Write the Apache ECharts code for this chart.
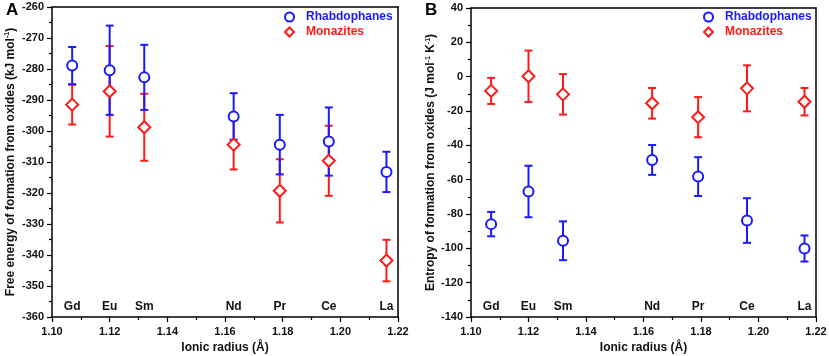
<!DOCTYPE html>
<html>
<head>
<meta charset="utf-8">
<script src="https://cdn.jsdelivr.net/npm/echarts@6/dist/echarts.min.js"></script>
<style>
  html, body { margin: 0; padding: 0; background: #fff; }
  #chart { width: 829px; height: 356px; }
</style>
</head>
<body>
<div id="chart"></div>
<script>
  // ionic radius of each lanthanide (Å)
  const elements = ['Gd', 'Eu', 'Sm', 'Nd', 'Pr', 'Ce', 'La'];
  const radius = [1.107, 1.120, 1.132, 1.163, 1.179, 1.196, 1.216];

  // A: free energy of formation (kJ/mol) and error
  const rhabG = [-278.9, -280.4, -282.7, -295.3, -304.4, -303.4, -313.2];
  const rhabGErr = [6.0, 14.4, 10.5, 7.5, 9.6, 11.0, 6.5];
  const monaG = [-291.5, -287.2, -298.8, -304.4, -319.3, -309.6, -341.8];
  const monaGErr = [6.4, 14.6, 10.8, 8.0, 10.2, 11.3, 6.7];

  // B: entropy of formation (J/mol/K) and error
  const rhabS = [-85.9, -66.9, -95.6, -48.5, -58.2, -83.8, -100.1];
  const rhabSErr = [7.1, 15.0, 11.3, 8.7, 11.3, 13.0, 7.6];
  const monaS = [-8.3, 0.2, -10.3, -15.5, -23.6, -6.8, -14.6];
  const monaSErr = [7.6, 15.0, 11.8, 8.9, 11.7, 13.4, 8.0];

  const blue = '#1a1aff';
  const red = '#ff1a1a';
  const font = 'Liberation Sans, Arial, sans-serif';

  const chart = echarts.init(document.getElementById('chart'), null, { renderer: 'canvas' });

  function errBars(vals, errs, color, idx) {
    return {
      type: 'custom',
      xAxisIndex: idx,
      yAxisIndex: idx,
      z: 2,
      silent: true,
      data: radius.map((r, i) => [r, vals[i] - errs[i], vals[i] + errs[i]]),
      renderItem: function (params, api) {
        const lo = api.coord([api.value(0), api.value(1)]);
        const hi = api.coord([api.value(0), api.value(2)]);
        const w = 4;
        const st = { stroke: color, lineWidth: 2 };
        return {
          type: 'group',
          children: [
            { type: 'line', shape: { x1: lo[0], y1: lo[1], x2: hi[0], y2: hi[1] }, style: st },
            { type: 'line', shape: { x1: lo[0] - w, y1: lo[1], x2: lo[0] + w, y2: lo[1] }, style: st },
            { type: 'line', shape: { x1: hi[0] - w, y1: hi[1], x2: hi[0] + w, y2: hi[1] }, style: st }
          ]
        };
      }
    };
  }

  function points(name, vals, color, symbol, size, idx) {
    return {
      name: name,
      type: 'scatter',
      xAxisIndex: idx,
      yAxisIndex: idx,
      z: 3,
      symbol: symbol,
      symbolSize: size,
      itemStyle: { color: '#fff', borderColor: color, borderWidth: 2, opacity: 1 },
      data: radius.map((r, i) => [r, vals[i]])
    };
  }

  // element names just above the bottom axis
  function elemLabels(yMin, idx) {
    return {
      type: 'custom',
      xAxisIndex: idx,
      yAxisIndex: idx,
      silent: true,
      data: radius.map((r, i) => [r, yMin, i]),
      renderItem: function (params, api) {
        const p = api.coord([api.value(0), api.value(1)]);
        return {
          type: 'text',
          x: p[0],
          y: p[1] - 10.5,
          style: {
            text: elements[api.value(2)],
            align: 'center',
            verticalAlign: 'middle',
            font: 'bold 12px ' + font,
            fill: '#111'
          }
        };
      }
    };
  }

  function xAxis(idx) {
    return {
      type: 'value',
      gridIndex: idx,
      min: 1.10,
      max: 1.22,
      interval: 0.02,
      name: 'Ionic radius (Å)',
      nameLocation: 'middle',
      nameGap: 24,
      nameTextStyle: { fontFamily: font, fontWeight: 'bold', fontSize: 12, color: '#111' },
      axisLine: { onZero: false, lineStyle: { color: '#000', width: 1.5 } },
      axisTick: { show: true, length: 5, lineStyle: { color: '#000', width: 1.2 } },
      minorTick: { show: true, splitNumber: 2, length: 3, lineStyle: { color: '#000', width: 1.2 } },
      splitLine: { show: false },
      axisLabel: {
        fontFamily: font, fontWeight: 'bold', fontSize: 11, color: '#111', margin: 9,
        formatter: v => v.toFixed(2)
      }
    };
  }

  function yAxis(idx, min, max, interval, nameParts, gap) {
    return {
      type: 'value',
      gridIndex: idx,
      min: min,
      max: max,
      interval: interval,
      name: nameParts,
      nameLocation: 'middle',
      nameGap: gap,
      nameTextStyle: {
        fontFamily: font, fontWeight: 'bold', fontSize: 12, color: '#111',
        rich: {
          t: { fontFamily: font, fontWeight: 'bold', fontSize: 12, color: '#111' },
          s: { fontFamily: font, fontWeight: 'bold', fontSize: 7, color: '#111', verticalAlign: 'top', padding: [0, 0, 6, 0] }
        }
      },
      axisLine: { onZero: false, lineStyle: { color: '#000', width: 1.5 } },
      axisTick: { show: true, length: 5, lineStyle: { color: '#000', width: 1.2 } },
      minorTick: { show: true, splitNumber: 2, length: 3, lineStyle: { color: '#000', width: 1.2 } },
      splitLine: { show: false },
      axisLabel: { fontFamily: font, fontWeight: 'bold', fontSize: 11, color: '#111', margin: 8 }
    };
  }

  // frame (top and right edges)
  function frameAxes(idx) {
    return [
      { type: 'value', gridIndex: idx, position: 'top', min: 0, max: 1,
        axisLine: { show: true, onZero: false, lineStyle: { color: '#000', width: 1.5 } },
        axisTick: { show: false }, axisLabel: { show: false }, splitLine: { show: false } },
      { type: 'value', gridIndex: idx, position: 'right', min: 0, max: 1,
        axisLine: { show: true, onZero: false, lineStyle: { color: '#000', width: 1.5 } },
        axisTick: { show: false }, axisLabel: { show: false }, splitLine: { show: false } }
    ];
  }

  const fA = frameAxes(0), fB = frameAxes(1);

  function legend(left, suffix) {
    return {
      left: left, top: 10, padding: 0, orient: 'vertical', itemGap: 1,
      itemWidth: 9, itemHeight: 9,
      data: ['Rhabdophanes', 'Monazites'].map(n => ({
        name: n + suffix,
        textStyle: { color: n === 'Rhabdophanes' ? blue : red }
      })),
      formatter: n => n.replace(suffix, ''),
      textStyle: { fontFamily: font, fontWeight: 'bold', fontSize: 12, lineHeight: 14, padding: [0, 0, 0, 7] },
      selectedMode: false
    };
  }

  const option = {
    animation: false,
    backgroundColor: '#fff',
    grid: [
      { left: 52, right: 431, top: 7, bottom: 39, containLabel: false, outerBoundsMode: 'none' },
      { left: 471, right: 13, top: 8, bottom: 39, containLabel: false, outerBoundsMode: 'none' }
    ],
    xAxis: [xAxis(0), xAxis(1), fA[0], fB[0]],
    yAxis: [
      yAxis(0, -360, -260, 10,
        '{t|Free energy of formation from oxides (kJ mol}{s|-1}{t|)}', 35),
      yAxis(1, -140, 40, 20,
        '{t|Entropy of formation from oxides (J mol}{s|-1}{t| K}{s|-1}{t|)}', 29),
      fA[1], fB[1]
    ],
    legend: [legend(284, ' A'), legend(703, ' B')],
    graphic: [
      { type: 'text', left: 6, top: 2, style: { text: 'A', font: 'bold 17px ' + font, fill: '#000' } },
      { type: 'text', left: 425, top: 2, style: { text: 'B', font: 'bold 17px ' + font, fill: '#000' } }
    ],
    series: [
      errBars(monaG, monaGErr, red, 0),
      errBars(rhabG, rhabGErr, blue, 0),
      points('Monazites A', monaG, red, 'diamond', 12, 0),
      points('Rhabdophanes A', rhabG, blue, 'circle', 10, 0),
      elemLabels(-360, 0),
      errBars(monaS, monaSErr, red, 1),
      errBars(rhabS, rhabSErr, blue, 1),
      points('Monazites B', monaS, red, 'diamond', 12, 1),
      points('Rhabdophanes B', rhabS, blue, 'circle', 10, 1),
      elemLabels(-140, 1)
    ]
  };

  chart.setOption(option);
</script>
</body>
</html>
